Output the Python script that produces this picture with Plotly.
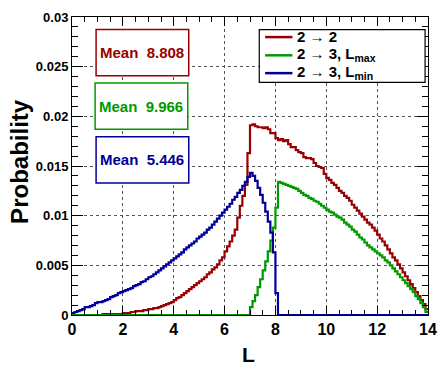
import numpy as np
import plotly.graph_objects as go

# ---------------- data ----------------
L_BIN_WIDTH = 0.1
L_RANGE = [0.0, 14.0]

# 2 -> 2
P_22 = (
    [0.0] * 12 + [0.0001] * 8 +
    [0.0002, 0.0002, 0.0002, 0.0003, 0.0003, 0.0004, 0.0004, 0.0004, 0.0005, 0.0005,
     0.0006, 0.0006, 0.0007, 0.0007, 0.0008, 0.0009, 0.0010, 0.0011, 0.0012, 0.0013,
     0.0015, 0.0017, 0.0018, 0.0020, 0.0022, 0.0024, 0.0026, 0.0028, 0.0030, 0.0032,
     0.0034, 0.0036, 0.0038, 0.0041, 0.0043, 0.0046, 0.0048, 0.0051, 0.0055, 0.0058,
     0.0064, 0.0069, 0.0074, 0.0080, 0.0086, 0.0098, 0.0110, 0.0120, 0.0131, 0.0163,
     0.0191, 0.0192, 0.0190, 0.0189, 0.0189, 0.0188, 0.0189, 0.0187, 0.0183, 0.0183,
     0.0178, 0.0176, 0.0177, 0.0175, 0.0176, 0.0172, 0.0169, 0.0169, 0.0166, 0.0164,
     0.0163, 0.0159, 0.0158, 0.0158, 0.0157, 0.0153, 0.0150, 0.0149, 0.0148, 0.0142,
     0.0138, 0.0136, 0.0133, 0.0131, 0.0128, 0.0125, 0.0123, 0.0120, 0.0118, 0.0115,
     0.0111, 0.0108, 0.0105, 0.0102, 0.0099, 0.0096, 0.0093, 0.0091, 0.0088, 0.0085,
     0.0081, 0.0077, 0.0074, 0.0070, 0.0066, 0.0062, 0.0058, 0.0055, 0.0051, 0.0047,
     0.0043, 0.0039, 0.0035, 0.0031, 0.0027, 0.0023, 0.0019, 0.0015, 0.0011, 0.0006]
)

# 2 -> 3, L_max
P_23_MAX = (
    [0.0] * 70 +
    [0.0008, 0.0014, 0.0020, 0.0028, 0.0036, 0.0045, 0.0054, 0.0064, 0.0075, 0.0088,
     0.0108, 0.0134, 0.0133, 0.0132, 0.0131, 0.0130, 0.0129, 0.0128, 0.0127, 0.0125,
     0.0123, 0.0121, 0.0120, 0.0118, 0.0117, 0.0115, 0.0114, 0.0112, 0.0110, 0.0108,
     0.0106, 0.0104, 0.0103, 0.0101, 0.0099, 0.0098, 0.0096, 0.0093, 0.0091, 0.0089,
     0.0086, 0.0084, 0.0081, 0.0078, 0.0076, 0.0073, 0.0070, 0.0068, 0.0066, 0.0064,
     0.0062, 0.0060, 0.0058, 0.0055, 0.0053, 0.0050, 0.0047, 0.0044, 0.0041, 0.0038,
     0.0035, 0.0032, 0.0029, 0.0026, 0.0023, 0.0019, 0.0016, 0.0012, 0.0008, 0.0003]
)

# 2 -> 3, L_min
P_23_MIN = (
    [0.0002, 0.0003, 0.0004, 0.0005, 0.0006, 0.0008, 0.0008, 0.0009, 0.0010, 0.0012,
     0.0013, 0.0013, 0.0014, 0.0015, 0.0016, 0.0018, 0.0019, 0.0020, 0.0022, 0.0023,
     0.0024, 0.0025, 0.0026, 0.0027, 0.0029, 0.0030, 0.0031, 0.0033, 0.0034, 0.0036,
     0.0038, 0.0039, 0.0041, 0.0043, 0.0045, 0.0047, 0.0049, 0.0051, 0.0053, 0.0055,
     0.0057, 0.0059, 0.0061, 0.0063, 0.0066, 0.0068, 0.0070, 0.0072, 0.0074, 0.0077,
     0.0079, 0.0081, 0.0083, 0.0086, 0.0088, 0.0091, 0.0094, 0.0097, 0.0100, 0.0103,
     0.0106, 0.0109, 0.0112, 0.0116, 0.0119, 0.0123, 0.0126, 0.0130, 0.0134, 0.0139,
     0.0143, 0.0140, 0.0135, 0.0128, 0.0121, 0.0113, 0.0104, 0.0094, 0.0083, 0.0063,
     0.0022] + [0.0] * 59
)

SERIES_NAMES = ["2 \u2192 2", "2 \u2192 3, L<sub>max</sub>", "2 \u2192 3, L<sub>min</sub>"]
SERIES_COLORS = ["#990000", "#009900", "#000099"]
MEANS = [8.808, 9.966, 5.446]

X_TICKS = [0, 2, 4, 6, 8, 10, 12, 14]
Y_TICKS = [0, 0.005, 0.01, 0.015, 0.02, 0.025, 0.03]
X_TITLE = "L"
Y_TITLE = "Probability"

# ---------------- figure ----------------
W, H = 447, 366
ML, MR, MT, MB = 72, 10, 14, 51
PW, PH = W - ML - MR, H - MT - MB

def px(xp):   # pixel -> paper x
    return (xp - ML) / PW

def py(yp):   # pixel -> paper y
    return (H - MB - yp) / PH

FONT = "Liberation Sans, Arial, Helvetica, sans-serif"

n_bins = len(P_22)
edges = L_RANGE[0] + L_BIN_WIDTH * np.arange(n_bins + 1)

fig = go.Figure()
for vals, name, col in zip([P_22, P_23_MAX, P_23_MIN], SERIES_NAMES, SERIES_COLORS):
    y = list(vals) + [vals[-1]]
    fig.add_trace(go.Scatter(
        x=edges, y=y, mode="lines", line=dict(color=col, width=2.2, shape="hv"),
        name=name, showlegend=False, hoverinfo="skip"))

axis_common = dict(
    showline=True, linecolor="black", linewidth=1, mirror="allticks",
    ticks="inside", tickcolor="black", tickwidth=1,
    showgrid=True, gridcolor="#555555", gridwidth=1, griddash="dot",
    zeroline=False,
)

fig.update_xaxes(
    range=L_RANGE, tickvals=X_TICKS, ticklen=9,
    tickfont=dict(family=FONT, size=16, color="black", weight="bold"),
    minor=dict(dtick=0.5, ticklen=5, ticks="inside", tickcolor="black", showgrid=False),
    **axis_common)
fig.update_yaxes(
    range=[0, 0.03], tickvals=Y_TICKS, ticklen=11,
    tickfont=dict(family=FONT, size=13, color="black", weight="bold"),
    minor=dict(dtick=0.001, ticklen=6, ticks="inside", tickcolor="black", showgrid=False),
    **axis_common)

annotations = []
shapes = []

# Mean boxes
box_px = [(96.7, 191.7, 26.7, 73.3), (95.7, 190.7, 80.7, 127.3), (96.7, 191.7, 135.0, 181.7)]
for (x0, x1, y0, y1), m, col in zip(box_px, MEANS, SERIES_COLORS):
    shapes.append(dict(type="rect", xref="paper", yref="paper",
                       x0=px(x0), x1=px(x1), y0=py(y1), y1=py(y0),
                       line=dict(color=col, width=1.5), fillcolor="white", layer="above"))
    annotations.append(dict(xref="paper", yref="paper", x=px((x0 + x1) / 2), y=py((y0 + y1) / 2),
                            text="Mean\u00a0\u00a0" + f"{m:.3f}", showarrow=False,
                            xanchor="center", yanchor="middle",
                            font=dict(family=FONT, size=15, color=col, weight="bold")))

# Legend box
shapes.append(dict(type="rect", xref="paper", yref="paper",
                   x0=px(264), x1=px(434), y0=py(80), y1=py(26.7),
                   line=dict(color="black", width=1.2), fillcolor="white", layer="above"))
rows_y = [34.3, 52.7, 70.7]
for ry, name, col in zip(rows_y, SERIES_NAMES, SERIES_COLORS):
    shapes.append(dict(type="line", xref="paper", yref="paper",
                       x0=px(270), x1=px(298), y0=py(ry), y1=py(ry),
                       line=dict(color=col, width=2.5), layer="above"))
    annotations.append(dict(xref="paper", yref="paper", x=px(301), y=py(ry - 1),
                            text=name, showarrow=False, xanchor="left", yanchor="middle",
                            font=dict(family=FONT, size=15, color="black", weight="bold")))

# Axis titles
annotations.append(dict(xref="paper", yref="paper", x=px(253), y=py(354.5),
                        text=X_TITLE, showarrow=False, xanchor="center", yanchor="middle",
                        font=dict(family=FONT, size=21, color="black", weight="bold")))
annotations.append(dict(xref="paper", yref="paper", x=px(18), y=py(160),
                        text=Y_TITLE, showarrow=False, xanchor="center", yanchor="middle",
                        textangle=-90,
                        font=dict(family=FONT, size=24, color="black", weight="bold")))

fig.update_layout(
    width=W, height=H, autosize=False,
    margin=dict(l=ML, r=MR, t=MT, b=MB, pad=0),
    paper_bgcolor="white", plot_bgcolor="white",
    showlegend=False, annotations=annotations, shapes=shapes,
)

fig.write_html("out.html")
